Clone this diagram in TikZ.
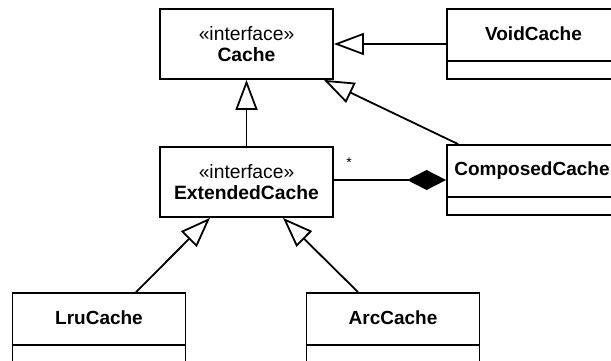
\documentclass[tikz,border=0pt]{standalone}
\usepackage{fontspec}
\setmainfont{Liberation Sans}
\usetikzlibrary{arrows.meta}
\begin{document}
\begin{tikzpicture}[x=1pt,y=-1pt,
  lw/.style={line width=1.8pt},
  ifacebox/.style={draw, lw, minimum width=173pt, minimum height=70pt, inner sep=0pt, align=center, font=\fontsize{19.3}{21}\selectfont},
  classbox/.style={draw, lw, minimum width=173pt, minimum height=70pt, inner sep=0pt,
    path picture={\draw[lw] ([yshift=18pt]path picture bounding box.south west) -- ([yshift=18pt]path picture bounding box.south east);}},
  classname/.style={font=\fontsize{19}{21}\selectfont\bfseries, inner sep=0pt},
  inherit/.style={lw, -{Triangle[open, length=30pt, width=22pt]}},
  compose/.style={lw, -{Diamond[length=39pt, width=20pt]}},
  mult/.style={font=\fontsize{14}{16}\selectfont, inner sep=0pt},
]
\useasboundingbox (0,0) rectangle (611,361);
\clip (0,0) rectangle (611,361);

\node[ifacebox] (cache) at (246.5,44) {«interface»\\\textbf{Cache}};
\node[ifacebox] (ext) at (246.5,182) {«interface»\\\textbf{ExtendedCache}};

\node[classbox] (void) at (533.5,44) {};
\node[classname] (voidname) at ([yshift=-26pt]void.north) {VoidCache};

\node[classbox] (comp) at (533.5,180) {};
\node[classname] (compname) at ([xshift=-1.5pt,yshift=-26pt]comp.north) {ComposedCache};

\node[classbox] (lru) at (99,328) {};
\node[classname] (lruname) at ([yshift=-26pt]lru.north) {LruCache};

\node[classbox] (arc) at (393,328) {};
\node[classname] (arcname) at ([yshift=-26pt]arc.north) {ArcCache};

\draw[inherit] (ext.north) -- (cache.south);
\draw[inherit] (void.west) -- (cache.east);
\draw[inherit] ([xshift=12pt]comp.north west) -- ([xshift=-10pt]cache.south east);
\draw[inherit] ([xshift=37pt]lru.north) -- ([xshift=-36.5pt]ext.south);
\draw[inherit] ([xshift=-35pt]arc.north) -- ([xshift=36.5pt]ext.south);

\draw[compose] (ext.east |- comp.west) -- (comp.west);
\node[mult] (star) at (349,163) {*};
\end{tikzpicture}
\end{document}
